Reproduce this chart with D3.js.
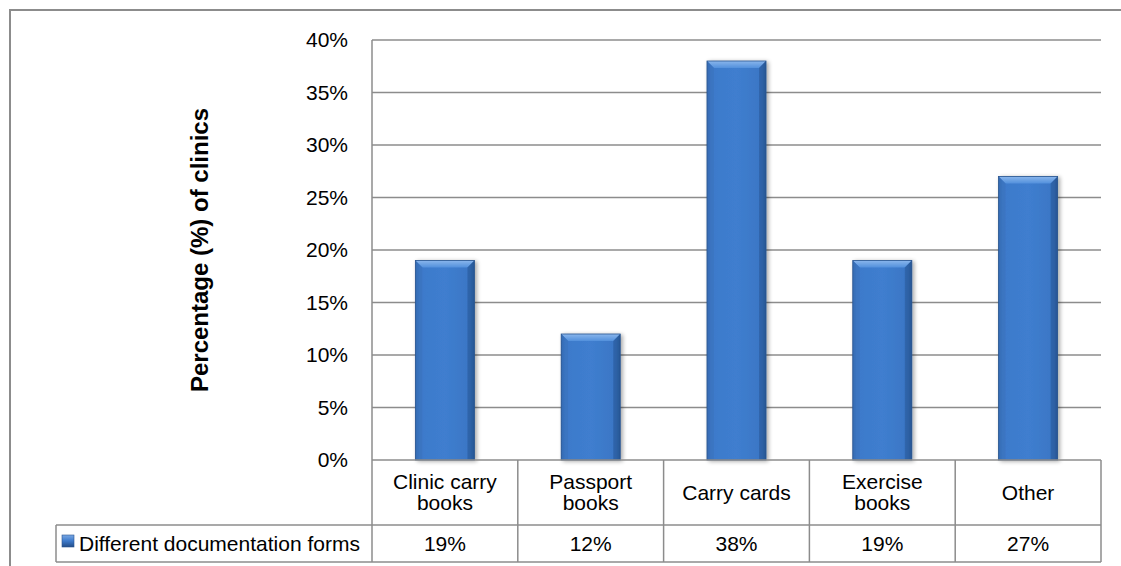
<!DOCTYPE html>
<html><head><meta charset="utf-8">
<script src="https://cdn.jsdelivr.net/npm/d3@7"></script>
<style>
html,body{margin:0;padding:0;background:#fff;}
svg{display:block;font-family:"Liberation Sans",Arial,sans-serif;}
</style></head>
<body>
<svg id="chart" width="1121" height="566"></svg>
<script>
const categories = [["Clinic carry","books"],["Passport","books"],["Carry cards"],["Exercise","books"],["Other"]];
const values = [19, 12, 38, 19, 27];
const valueLabels = ["19%","12%","38%","19%","27%"];
const yTicks = [0,5,10,15,20,25,30,35,40];
const seriesName = "Different documentation forms";
const yTitle = "Percentage (%) of clinics";

const svg = d3.select("#chart");
const W = 1121, H = 566;
const plotL = 372, plotR = 1101, plotT = 40, plotB = 460;
const row1B = 525, row2B = 562, legendL = 56;
const grid = "#8c8c8c";
const fs = 21;

const x = d3.scaleBand().domain(d3.range(categories.length)).range([plotL, plotR]).paddingInner(0.595).paddingOuter(0.2975);
const xCol = d3.scaleBand().domain(d3.range(categories.length)).range([plotL, plotR]);
const y = d3.scaleLinear().domain([0, 40]).range([plotB, plotT]);

const defs = svg.append("defs");
const hg = defs.append("linearGradient").attr("id","face").attr("x1","0").attr("x2","1").attr("y1","0").attr("y2","0");
[[0,"#2c5d9f"],[0.06,"#3a74c2"],[0.12,"#3d7acb"],[0.5,"#3f7ecf"],[0.88,"#3b77c6"],[0.94,"#3469b0"],[1,"#234d87"]]
  .forEach(([o,c])=>hg.append("stop").attr("offset",o).attr("stop-color",c));
const tg = defs.append("linearGradient").attr("id","topb").attr("x1","0").attr("x2","0").attr("y1","0").attr("y2","1");
[[0,"#8ab6ec"],[1,"#5290dc"]].forEach(([o,c])=>tg.append("stop").attr("offset",o).attr("stop-color",c));
const lg = defs.append("linearGradient").attr("id","leg").attr("x1","0").attr("x2","0").attr("y1","0").attr("y2","1");
[[0,"#7aa8e4"],[0.5,"#3d7acb"],[1,"#234d87"]].forEach(([o,c])=>lg.append("stop").attr("offset",o).attr("stop-color",c));
const sh = defs.append("filter").attr("id","shadow").attr("x","-20%").attr("y","-5%").attr("width","150%").attr("height","115%");
sh.append("feGaussianBlur").attr("in","SourceAlpha").attr("stdDeviation","2");
sh.append("feOffset").attr("dx","2").attr("dy","1").attr("result","b");
sh.append("feComponentTransfer").append("feFuncA").attr("type","linear").attr("slope","0.35");
const fm = sh.append("feMerge"); fm.append("feMergeNode"); fm.append("feMergeNode").attr("in","SourceGraphic");

// outer border
svg.append("rect").attr("x",10).attr("y",10).attr("width",W).attr("height",H).attr("fill","none").attr("stroke",grid).attr("stroke-width",2);

// gridlines
svg.append("g").selectAll("line").data(yTicks.filter(d=>d>0)).join("line")
  .attr("x1",plotL).attr("x2",plotR).attr("y1",d=>y(d)).attr("y2",d=>y(d))
  .attr("stroke",grid).attr("stroke-width",1.5);

// y axis labels
const yAxis = d3.axisLeft(y).tickValues(yTicks).tickFormat(d=>d+"%").tickSize(0).tickPadding(0);
const ya = svg.append("g").attr("transform",`translate(348,0)`).call(yAxis);
ya.select(".domain").remove();
ya.selectAll("text").attr("font-size",fs).attr("fill","#000").attr("font-family","Liberation Sans, Arial, sans-serif");

// y title
svg.append("text").attr("transform",`translate(208,${(plotT+plotB)/2}) rotate(-90)`)
  .attr("text-anchor","middle").attr("font-size",24).attr("font-weight","bold").text(yTitle);

// bars
const bars = svg.append("g").selectAll("g").data(values).join("g").attr("filter","url(#shadow)");
bars.each(function(v,i){
  const g = d3.select(this);
  const bx = x(i), bw = x.bandwidth(), by = y(v), bh = plotB - by, b = 7;
  g.append("rect").attr("x",bx).attr("y",by).attr("width",bw).attr("height",bh).attr("fill","url(#face)");
  g.append("polygon").attr("points",[[bx,by],[bx+bw,by],[bx+bw-b,by+b],[bx+b,by+b]].map(p=>p.join(",")).join(" ")).attr("fill","url(#topb)");
  g.append("polygon").attr("points",[[bx,by],[bx+b,by+b],[bx+b,plotB],[bx,plotB]].map(p=>p.join(",")).join(" ")).attr("fill","#3a73be").attr("opacity",0.6);
  g.append("polygon").attr("points",[[bx+bw,by],[bx+bw-b,by+b],[bx+bw-b,plotB],[bx+bw,plotB]].map(p=>p.join(",")).join(" ")).attr("fill","#2a5b9c").attr("opacity",0.6);
  g.append("rect").attr("x",bx).attr("y",by).attr("width",bw).attr("height",bh).attr("fill","none").attr("stroke","#2a5590").attr("stroke-width",0.8);
});

// table lines
const t = svg.append("g").attr("stroke",grid).attr("stroke-width",1.5).attr("fill","none");
t.append("line").attr("x1",plotL).attr("x2",plotL).attr("y1",plotT).attr("y2",row2B);
t.append("line").attr("x1",plotL).attr("x2",plotR).attr("y1",plotB).attr("y2",plotB);
t.append("line").attr("x1",legendL).attr("x2",plotR).attr("y1",row1B).attr("y2",row1B);
t.append("line").attr("x1",legendL).attr("x2",plotR).attr("y1",row2B).attr("y2",row2B);
t.append("line").attr("x1",legendL).attr("x2",legendL).attr("y1",row1B).attr("y2",row2B);
t.selectAll(".col").data(d3.range(categories.length)).join("line").attr("class","col")
  .attr("x1",i=>xCol(i)+xCol.bandwidth()).attr("x2",i=>xCol(i)+xCol.bandwidth()).attr("y1",plotB).attr("y2",row2B);

// category labels
const cat = svg.append("g").selectAll("text").data(categories).join("text")
  .attr("text-anchor","middle").attr("font-size",fs)
  .attr("x",(d,i)=>xCol(i)+xCol.bandwidth()/2)
  .attr("y",d=> d.length===1 ? (plotB+row1B)/2 + 7 : (plotB+row1B)/2 - 4);
cat.each(function(d){
  const s = d3.select(this);
  d.forEach((line,k)=>s.append("tspan").attr("x",s.attr("x")).attr("dy",k===0?0:21).text(line));
});

// values row
svg.append("g").selectAll("text").data(valueLabels).join("text")
  .attr("text-anchor","middle").attr("font-size",fs)
  .attr("x",(d,i)=>xCol(i)+xCol.bandwidth()/2).attr("y",(row1B+row2B)/2+7).text(d=>d);

// legend
svg.append("rect").attr("x",62).attr("y",535).attr("width",12).attr("height",12).attr("fill","url(#leg)").attr("stroke","#2a5590").attr("stroke-width",0.6);
svg.append("text").attr("x",79).attr("y",(row1B+row2B)/2+7).attr("font-size",fs).text(seriesName);
</script>
</body></html>
